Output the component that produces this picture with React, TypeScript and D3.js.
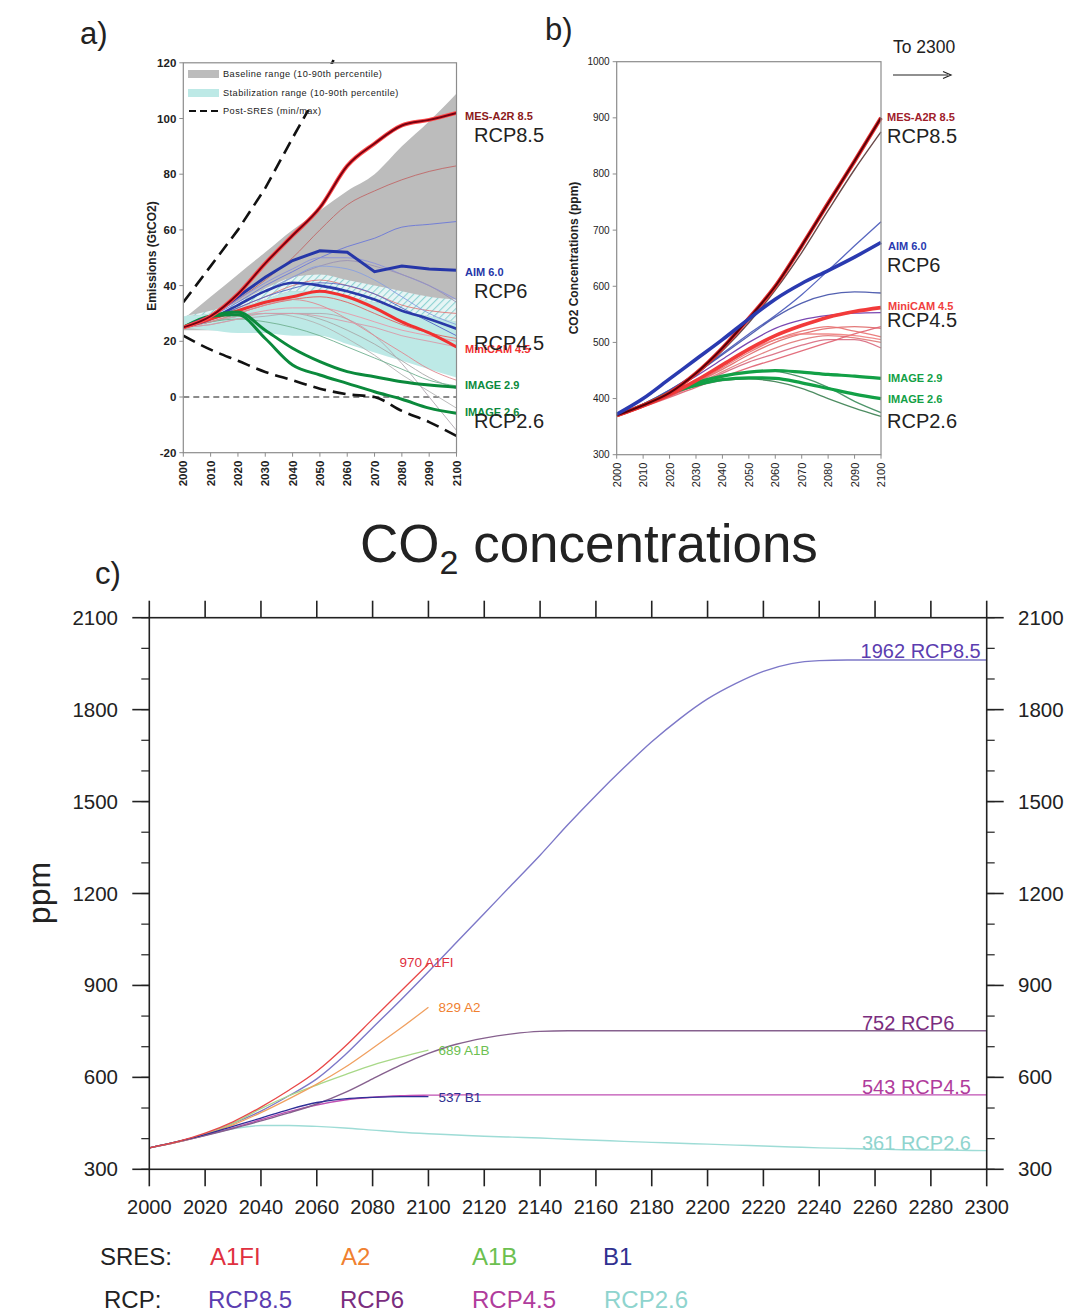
import React from 'react';
import * as d3 from 'd3';

const FONT = "'Liberation Sans', Arial, Helvetica, sans-serif";

// ---------- Panel a: emissions (GtCO2) ----------
const yearsA = [2000, 2010, 2020, 2030, 2040, 2050, 2060, 2070, 2080, 2090, 2100];
const yTicksA = [-20, 0, 20, 40, 60, 80, 100, 120];
const baselineUpper = [28, 36, 44, 52, 60, 67, 74, 80, 90, 99, 109];
const baselineLower = [24, 24, 24, 24, 24, 23, 22, 21, 20, 20, 20];
const stabUpper = [29, 30, 32, 35, 38, 38, 36, 34, 31, 29, 27];
const stabLower = [25, 24, 23, 23, 22, 22, 19, 16, 13, 10, 7];
const stabHatchUpper = [29, 31, 34, 39, 43, 44, 42, 40, 38, 36, 35];
const postSresYears = [2000, 2010, 2020, 2030, 2040, 2048, 2055];
const postSresMax = [34, 47, 60, 75, 93, 107, 121];
const postSresMin = [22, 17, 13, 9, 6, 3, 1, 0, -5, -9, -14];
const aMES = [25, 29, 37, 48, 58, 68, 83, 91, 97.5, 99.5, 102];
const aAIM = [25, 29, 36, 43, 49, 52.5, 52, 45, 47, 46, 45.5];
const aAIM2 = [25, 28, 33, 38, 41, 40, 38, 35, 31, 28, 24.5];
const aMiniCAM = [25, 28, 31, 34, 36, 38, 36, 32, 27, 23, 18];
const aIMAGE29 = [25, 29, 30.5, 24, 17.5, 12.7, 9.1, 7.3, 5.5, 4.3, 3.5];
const aIMAGE26 = [25, 29, 29.5, 21, 11.5, 7.9, 4.9, 1.9, -0.8, -4, -5.8];
const aThin = [
  [25, 29, 35, 42, 50, 60, 69, 74, 78, 81, 83],
  [25, 29, 34, 40, 45, 50, 54, 57, 61, 62, 63],
  [25, 29, 35, 41, 46, 50, 50, 48, 44, 40, 35],
  [25, 28, 33, 38, 43, 47, 49, 47, 44, 40, 34],
  [25, 28, 32, 36, 40, 42, 40, 37, 33, 31, 30],
  [25, 27, 30, 33, 35, 36, 34, 30, 26, 23, 21],
  [25, 27, 29, 31, 32, 32, 30, 27, 24, 22, 20],
  [25, 28, 32, 36, 39, 41, 40, 37, 32, 27, 22],
  [25, 27, 29, 30, 30, 28, 24, 19, 13, 7, 3],
  [25, 27, 29, 30, 29, 26, 21, 15, 8, 2, -4],
  [25, 26, 28, 29, 30, 30, 28, 22, 12, 0, -12],
  [25, 27, 28, 27, 25, 22, 18, 14, 10, 6, 4],
  [25, 27, 30, 33, 35, 33, 28, 22, 16, 10, 6],
  [25, 28, 33, 38, 43, 47, 46, 42, 36, 30, 26],
  [25, 26, 28, 30, 30, 29, 27, 25, 22, 20, 18],
];
const aThinColors = ['#c06868', '#6a78d8', '#8a90dc', '#9a92b4', '#e07a7a', '#e06060', '#e898a8', '#5566c4', '#a8a8a8', '#b4b4b4', '#b0a8b0', '#70b090', '#e08890', '#88a0e0', '#d89aa8'];

// ---------- Panel b: concentrations to 2100 ----------
const yearsB = [2000, 2010, 2020, 2030, 2040, 2050, 2060, 2070, 2080, 2090, 2100];
const yTicksB = [300, 400, 500, 600, 700, 800, 900, 1000];
const bMES = [370, 388, 410, 445, 490, 543, 600, 672, 748, 823, 900];
const bRCP85 = [370, 388, 410, 442, 485, 535, 593, 660, 735, 808, 875];
const bAIM = [372, 400, 435, 470, 505, 542, 577, 605, 628, 652, 678];
const bMiniCAM = [370, 387, 407, 432, 460, 488, 512, 530, 545, 555, 562];
const bIMAGE29 = [370, 388, 410, 428, 440, 447, 450, 447, 443, 440, 436];
const bIMAGE26 = [370, 388, 409, 424, 434, 437, 436, 428, 418, 408, 400];
const bThin = [
  [370, 390, 415, 445, 480, 515, 548, 585, 628, 672, 715],
  [370, 390, 415, 445, 478, 512, 545, 570, 585, 590, 588],
  [370, 389, 412, 440, 470, 500, 525, 540, 548, 552, 553],
  [370, 386, 405, 428, 452, 478, 500, 515, 525, 528, 525],
  [370, 386, 404, 425, 448, 470, 490, 505, 512, 508, 500],
  [370, 386, 404, 424, 445, 465, 480, 495, 505, 505, 490],
  [370, 385, 402, 420, 438, 455, 470, 485, 500, 515, 528],
  [370, 386, 405, 428, 455, 482, 505, 520, 528, 520, 510],
  [370, 387, 408, 432, 458, 485, 505, 515, 515, 512, 505],
  [370, 388, 410, 427, 440, 447, 448, 438, 420, 395, 375],
  [370, 388, 408, 422, 432, 435, 430, 418, 400, 383, 368],
];
const bThinColors = ['#4555b8', '#4050a8', '#6a34a8', '#e06a6a', '#e07878', '#d86a80', '#e06070', '#e87070', '#f08080', '#3a8a5a', '#3a8050'];

// ---------- Panel c: concentrations to 2300 ----------
const yearsSRES = [2000, 2010, 2020, 2030, 2040, 2050, 2060, 2070, 2080, 2090, 2100];
const yearsRCP = d3.range(2000, 2301, 10);
const xTicksC = d3.range(2000, 2301, 20);
const yTicksC = [300, 600, 900, 1200, 1500, 1800, 2100];
const yMinorC = d3.range(300, 2101, 100);
const sresA1FI = [370, 390, 418, 455, 503, 558, 620, 700, 790, 880, 970];
const sresA2 = [370, 389, 413, 445, 485, 530, 578, 632, 695, 760, 829];
const sresA1B = [370, 390, 415, 450, 498, 540, 575, 608, 640, 666, 689];
const sresB1 = [370, 390, 413, 440, 467, 495, 518, 530, 535, 537, 537];
const rcp85 = [370, 390, 415, 450, 490, 540, 595, 672, 762, 852, 945, 1040, 1135, 1230, 1325, 1425, 1520, 1610, 1695, 1770, 1835, 1885, 1925, 1950, 1960, 1962, 1962, 1962, 1962, 1962, 1962];
const rcp6 = [370, 389, 410, 433, 458, 484, 513, 550, 595, 640, 678, 708, 728, 742, 750, 752, 752, 752, 752, 752, 752, 752, 752, 752, 752, 752, 752, 752, 752, 752, 752];
const rcp45 = [370, 389, 411, 435, 462, 488, 510, 526, 535, 540, 542, 543, 543, 543, 543, 543, 543, 543, 543, 543, 543, 543, 543, 543, 543, 543, 543, 543, 543, 543, 543];
const rcp26 = [370, 390, 412, 432, 443, 443, 440, 435, 428, 421, 416, 412, 408, 405, 402, 398, 395, 391, 388, 385, 382, 379, 376, 373, 370, 368, 366, 364, 363, 362, 361];
const sresNames = ['A1FI', 'A2', 'A1B', 'B1'];
const rcpNames = ['RCP8.5', 'RCP6', 'RCP4.5', 'RCP2.6'];

export default function App() {
  // scales
  const xA = d3.scaleLinear().domain([2000, 2100]).range([183.3, 456.5]);
  const yA = d3.scaleLinear().domain([-20, 120]).range([452.7, 62.8]);
  const xB = d3.scaleLinear().domain([2000, 2100]).range([616.7, 881]);
  const yB = d3.scaleLinear().domain([300, 1000]).range([454.7, 61.7]);
  const xC = d3.scaleLinear().domain([2000, 2300]).range([149.3, 986.7]);
  const yC = d3.scaleLinear().domain([300, 2100]).range([1169.3, 617.7]);

  const lineA = d3.line<number>().x((_, i) => xA(yearsA[i])).y((d) => yA(d)).curve(d3.curveMonotoneX);
  const lineARaw = d3.line<number>().x((_, i) => xA(yearsA[i])).y((d) => yA(d));
  const areaA = (lo: number[], hi: number[]) =>
    d3.area<number>().x((_, i) => xA(yearsA[i])).y0((_, i) => yA(lo[i])).y1((d) => yA(d)).curve(d3.curveMonotoneX)(hi) || '';
  const postMax = d3.line<number>().x((_, i) => xA(postSresYears[i])).y((d) => yA(d))(postSresMax) || '';
  const lineB = d3.line<number>().x((_, i) => xB(yearsB[i])).y((d) => yB(d)).curve(d3.curveMonotoneX);
  const lineSRES = d3.line<number>().x((_, i) => xC(yearsSRES[i])).y((d) => yC(d)).curve(d3.curveMonotoneX);
  const lineRCP = d3.line<number>().x((_, i) => xC(yearsRCP[i])).y((d) => yC(d)).curve(d3.curveMonotoneX);

  const sresColors = ['#e84848', '#f0a060', '#a8d888', '#303098'];
  const sresText = ['#e03040', '#f08030', '#6cc050', '#303090'];
  const rcpLine = ['#7d78c8', '#86608e', '#c050b4', '#9edcd6'];
  const rcpText = ['#5b3db0', '#7a2d7e', '#b03c9c', '#8fd4ce'];

  const gray = '#8c8c8c';
  const boldSmall = { fontFamily: FONT, fontWeight: 700 } as const;

  return (
    <svg width={1066} height={1313} style={{ position: 'absolute', left: 0, top: 0, background: '#fff' }} fontFamily={FONT}>
      <defs>
        <pattern id="hatch" width={5} height={5} patternUnits="userSpaceOnUse" patternTransform="rotate(45)">
          <rect width={5} height={5} fill="#e6f5f5" />
          <line x1={0} y1={0} x2={0} y2={5} stroke="#8fd3d3" strokeWidth={2.2} />
        </pattern>
        <clipPath id="clipA">
          <rect x={xA(2000)} y={yA(122)} width={xA(2100) - xA(2000)} height={yA(-20) - yA(122)} />
        </clipPath>
      </defs>

      {/* ================= Panel a ================= */}
      <text x={80} y={44} fontSize={31} fill="#222">a)</text>
      <g clipPath="url(#clipA)">
        <path d={areaA(baselineLower, baselineUpper)} fill="#bcbcbc" />
        <path d={areaA(stabUpper, stabHatchUpper)} fill="url(#hatch)" />
        <path d={areaA(stabLower, stabUpper)} fill="#bde9e6" />
        <line x1={xA(2000)} x2={xA(2100)} y1={yA(0)} y2={yA(0)} stroke="#666" strokeWidth={1.3} strokeDasharray="6,4" />
        {aThin.map((s, i) => (
          <path key={i} d={lineA(s) || ''} fill="none" stroke={aThinColors[i]} strokeWidth={1} opacity={0.9} />
        ))}
        <path d={postMax} fill="none" stroke="#111" strokeWidth={2.6} strokeDasharray="13,7" />
        <path d={lineA(postSresMin) || ''} fill="none" stroke="#111" strokeWidth={2.6} strokeDasharray="13,7" />
        <path d={lineA(aAIM2) || ''} fill="none" stroke="#2a3aa8" strokeWidth={2.6} />
        <path d={lineA(aMiniCAM) || ''} fill="none" stroke="#f03030" strokeWidth={3} />
        <path d={lineA(aIMAGE29) || ''} fill="none" stroke="#0b8a3c" strokeWidth={3} />
        <path d={lineA(aIMAGE26) || ''} fill="none" stroke="#0b8a3c" strokeWidth={3} />
        <path d={lineARaw(aAIM) || ''} fill="none" stroke="#2536a8" strokeWidth={3} />
        <path d={lineA(aMES) || ''} fill="none" stroke="#ff4a4a" strokeWidth={4} />
        <path d={lineA(aMES) || ''} fill="none" stroke="#7a0010" strokeWidth={2} />
      </g>
      {/* legend a */}
      <rect x={185} y={64} width={225} height={46} fill="#fff" />
      <rect x={188} y={70} width={31} height={8} fill="#bcbcbc" />
      <text x={223} y={77} fontSize={9.2} letterSpacing={0.45} fill="#222">Baseline range (10-90th percentile)</text>
      <rect x={188} y={89} width={31} height={8} fill="#bde9e6" />
      <text x={223} y={96} fontSize={9.2} letterSpacing={0.45} fill="#222">Stabilization range (10-90th percentile)</text>
      <line x1={189} x2={219} y1={111} y2={111} stroke="#111" strokeWidth={2} strokeDasharray="7,4" />
      <text x={223} y={114} fontSize={9.2} letterSpacing={0.45} fill="#222">Post-SRES (min/max)</text>
      {/* frame a */}
      <rect x={xA(2000)} y={yA(120)} width={xA(2100) - xA(2000)} height={yA(-20) - yA(120)} fill="none" stroke={gray} strokeWidth={1.2} />
      {yTicksA.map((t) => (
        <g key={t}>
          <line x1={xA(2000) - 4} x2={xA(2000)} y1={yA(t)} y2={yA(t)} stroke={gray} />
          <text x={xA(2000) - 7} y={yA(t) + 4} fontSize={11.5} textAnchor="end" {...boldSmall} fill="#222">{t}</text>
        </g>
      ))}
      {yearsA.map((t) => (
        <g key={t}>
          <line x1={xA(t)} x2={xA(t)} y1={yA(-20)} y2={yA(-20) + 4} stroke={gray} />
          <text transform={`translate(${xA(t) + 4},${yA(-20) + 8}) rotate(-90)`} fontSize={11.5} textAnchor="end" {...boldSmall} fill="#222">{t}</text>
        </g>
      ))}
      <text transform={`translate(156,256) rotate(-90)`} fontSize={12} textAnchor="middle" {...boldSmall} fill="#222">Emissions (GtCO2)</text>
      {/* labels a */}
      <text x={465} y={120} fontSize={11} {...boldSmall} fill="#8b1a1a">MES-A2R 8.5</text>
      <text x={474} y={142} fontSize={20} fill="#222">RCP8.5</text>
      <text x={465} y={276} fontSize={11} {...boldSmall} fill="#2536a8">AIM 6.0</text>
      <text x={474} y={298} fontSize={20} fill="#222">RCP6</text>
      <text x={465} y={353} fontSize={11} {...boldSmall} fill="#f03030">MiniCAM 4.5</text>
      <text x={474} y={350} fontSize={20} fill="#222">RCP4.5</text>
      <text x={465} y={389} fontSize={11} {...boldSmall} fill="#0b8a3c">IMAGE 2.9</text>
      <text x={465} y={416} fontSize={11} {...boldSmall} fill="#0b8a3c">IMAGE 2.6</text>
      <text x={474} y={428} fontSize={20} fill="#222">RCP2.6</text>

      {/* ================= Panel b ================= */}
      <text x={545} y={40} fontSize={31} fill="#222">b)</text>
      <text x={893} y={53} fontSize={17.5} fill="#222">To 2300</text>
      <line x1={893} x2={948} y1={75} y2={75} stroke="#222" strokeWidth={1.2} />
      <path d="M943,71.5 L951,75 L943,78.5" fill="none" stroke="#222" strokeWidth={1.2} />
      {bThin.map((s, i) => (
        <path key={i} d={lineB(s) || ''} fill="none" stroke={bThinColors[i]} strokeWidth={1.3} opacity={0.9} />
      ))}
      <path d={lineB(bIMAGE29) || ''} fill="none" stroke="#12a046" strokeWidth={3.2} />
      <path d={lineB(bIMAGE26) || ''} fill="none" stroke="#12a046" strokeWidth={3.2} />
      <path d={lineB(bMiniCAM) || ''} fill="none" stroke="#f23a3a" strokeWidth={3.6} />
      <path d={lineB(bRCP85) || ''} fill="none" stroke="#6a4a4a" strokeWidth={1.4} />
      <path d={lineB(bMES) || ''} fill="none" stroke="#e83030" strokeWidth={4} />
      <path d={lineB(bMES) || ''} fill="none" stroke="#5a0008" strokeWidth={2} />
      <path d={lineB(bAIM) || ''} fill="none" stroke="#2a3ab0" strokeWidth={3.6} />
      <rect x={xB(2000)} y={yB(1000)} width={xB(2100) - xB(2000)} height={yB(300) - yB(1000)} fill="none" stroke={gray} strokeWidth={1.2} />
      {yTicksB.map((t) => (
        <g key={t}>
          <line x1={xB(2000) - 4} x2={xB(2000)} y1={yB(t)} y2={yB(t)} stroke={gray} />
          <text x={xB(2000) - 7} y={yB(t) + 3.5} fontSize={10} textAnchor="end" fill="#222">{t}</text>
        </g>
      ))}
      {yearsB.map((t) => (
        <g key={t}>
          <line x1={xB(t)} x2={xB(t)} y1={yB(300)} y2={yB(300) + 4} stroke={gray} />
          <text transform={`translate(${xB(t) + 4},${yB(300) + 8}) rotate(-90)`} fontSize={11} textAnchor="end" fill="#222">{t}</text>
        </g>
      ))}
      <text transform={`translate(578,258) rotate(-90)`} fontSize={12} textAnchor="middle" {...boldSmall} fill="#222">CO2 Concentrations (ppm)</text>
      <text x={887} y={121} fontSize={11} {...boldSmall} fill="#a0202a">MES-A2R 8.5</text>
      <text x={887} y={143} fontSize={20} fill="#222">RCP8.5</text>
      <text x={888} y={250} fontSize={11} {...boldSmall} fill="#2a3ab0">AIM 6.0</text>
      <text x={887} y={272} fontSize={20} fill="#222">RCP6</text>
      <text x={888} y={310} fontSize={11} {...boldSmall} fill="#f04040">MiniCAM 4.5</text>
      <text x={887} y={327} fontSize={20} fill="#222">RCP4.5</text>
      <text x={888} y={382} fontSize={11} {...boldSmall} fill="#12a046">IMAGE 2.9</text>
      <text x={888} y={403} fontSize={11} {...boldSmall} fill="#12a046">IMAGE 2.6</text>
      <text x={887} y={428} fontSize={20} fill="#222">RCP2.6</text>

      {/* ================= Panel c ================= */}
      <text x={95} y={584} fontSize={31} fill="#222">c)</text>
      <text x={360} y={562} fontSize={53} fill="#222">
        CO<tspan fontSize={34} dy={12}>2</tspan>
        <tspan dy={-12}> concentrations</tspan>
      </text>
      {[rcp26, rcp45, rcp6, rcp85].map((s, i) => (
        <path key={i} d={lineRCP(s) || ''} fill="none" stroke={rcpLine[3 - i]} strokeWidth={1.4} />
      ))}
      {[sresA1B, sresA2, sresB1, sresA1FI].map((s, i) => (
        <path key={i} d={lineSRES(s) || ''} fill="none" stroke={[sresColors[2], sresColors[1], sresColors[3], sresColors[0]][i]} strokeWidth={1.3} />
      ))}
      {/* frame c */}
      <rect x={xC(2000)} y={yC(2100)} width={xC(2300) - xC(2000)} height={yC(300) - yC(2100)} fill="none" stroke="#222" strokeWidth={1.6} />
      {xTicksC.map((t) => (
        <g key={t}>
          <line x1={xC(t)} x2={xC(t)} y1={yC(2100)} y2={yC(2100) - 17} stroke="#222" strokeWidth={1.6} />
          <line x1={xC(t)} x2={xC(t)} y1={yC(300)} y2={yC(300) + 17} stroke="#222" strokeWidth={1.6} />
          <text x={xC(t)} y={yC(300) + 45} fontSize={20} textAnchor="middle" fill="#222">{t}</text>
        </g>
      ))}
      {yMinorC.map((t) => (
        <g key={t}>
          <line x1={xC(2000) - 8} x2={xC(2000)} y1={yC(t)} y2={yC(t)} stroke="#222" strokeWidth={1.2} />
          <line x1={xC(2300)} x2={xC(2300) + 8} y1={yC(t)} y2={yC(t)} stroke="#222" strokeWidth={1.2} />
        </g>
      ))}
      {yTicksC.map((t) => (
        <g key={t}>
          <line x1={xC(2000) - 17} x2={xC(2000)} y1={yC(t)} y2={yC(t)} stroke="#222" strokeWidth={1.6} />
          <line x1={xC(2300)} x2={xC(2300) + 17} y1={yC(t)} y2={yC(t)} stroke="#222" strokeWidth={1.6} />
          <text x={118} y={yC(t) + 7} fontSize={20.5} textAnchor="end" fill="#222">{t}</text>
          <text x={1018} y={yC(t) + 7} fontSize={20.5} textAnchor="start" fill="#222">{t}</text>
        </g>
      ))}
      <text transform={`translate(50,893) rotate(-90)`} fontSize={32} textAnchor="middle" fill="#222">ppm</text>
      {/* line labels c */}
      <text x={xC(2100) - 2} y={yC(970) + 3} fontSize={13.5} textAnchor="middle" fill={sresText[0]}>970 A1FI</text>
      <text x={xC(2100) + 10} y={yC(829) + 5} fontSize={13.5} fill={sresText[1]}>829 A2</text>
      <text x={xC(2100) + 10} y={yC(689) + 5} fontSize={13.5} fill={sresText[2]}>689 A1B</text>
      <text x={xC(2100) + 10} y={yC(537) + 5} fontSize={13.5} fill={sresText[3]}>537 B1</text>
      <text x={xC(2300) - 6} y={yC(1962) - 2} fontSize={20} textAnchor="end" fill={rcpText[0]}>1962 RCP8.5</text>
      <text x={862} y={yC(752) - 1} fontSize={20} fill={rcpText[1]}>752 RCP6</text>
      <text x={862} y={yC(543) - 1} fontSize={20} fill={rcpText[2]}>543 RCP4.5</text>
      <text x={862} y={yC(361) - 1} fontSize={20} fill={rcpText[3]}>361 RCP2.6</text>
      {/* legend c */}
      <text x={100} y={1265} fontSize={24} fill="#222">SRES:</text>
      <text x={104} y={1308} fontSize={24} fill="#222">RCP:</text>
      {sresNames.map((n, i) => (
        <text key={n} x={210 + i * 131} y={1265} fontSize={24} fill={sresText[i]}>{n}</text>
      ))}
      {rcpNames.map((n, i) => (
        <text key={n} x={208 + i * 132} y={1308} fontSize={24} fill={rcpText[i]}>{n}</text>
      ))}
    </svg>
  );
}
